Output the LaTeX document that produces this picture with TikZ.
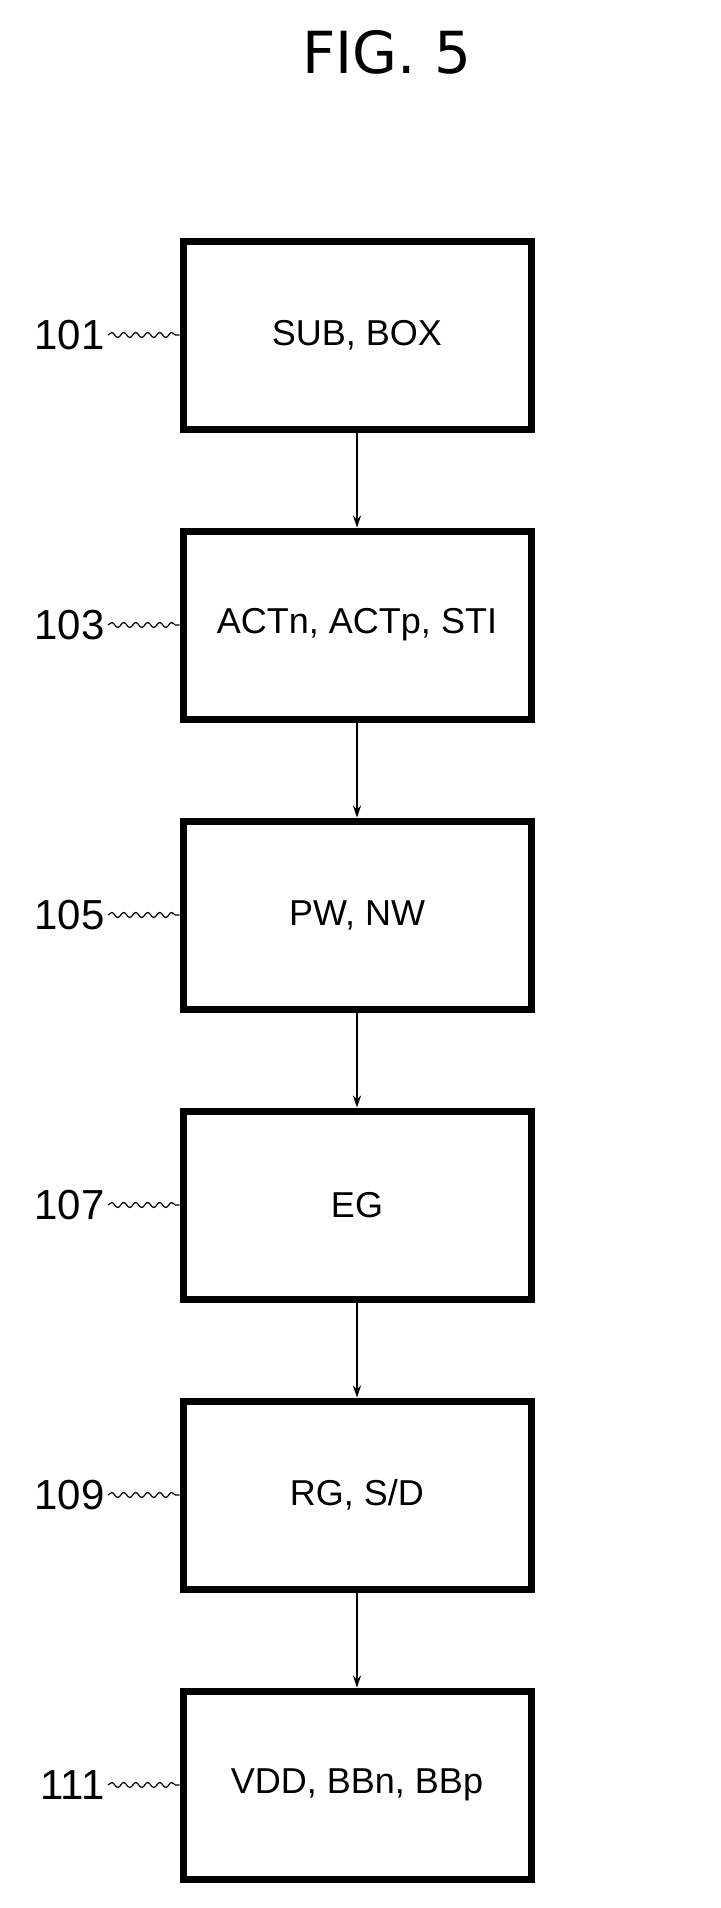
\documentclass[tikz,border=0pt]{standalone}
\usepackage{fontspec}
\setmainfont{Liberation Sans}
\newfontfamily\titlefont{DejaVu Sans}
\usetikzlibrary{decorations.pathmorphing,arrows.meta}
\begin{document}
\begin{tikzpicture}[x=1pt,y=-1pt,
  box/.style={draw,line width=7pt,minimum width=348pt,minimum height=188pt,inner sep=0pt,font=\fontsize{36}{36}\selectfont},
  lab/.style={font=\fontsize{42}{42}\selectfont,anchor=east},
  wave/.style={decorate,decoration={snake,amplitude=2.5pt,segment length=12pt},line width=1.2pt},
  arr/.style={-{Stealth[length=12pt,width=8pt]},line width=1.5pt}]
\useasboundingbox (0,0) rectangle (720,1908);
\node[font=\titlefont\fontsize{58}{58}\selectfont] (title) at (387,52) {FIG. 5};
\foreach \i/\t/\n in {0/{SUB, BOX}/101,1/{ACTn, ACTp, STI}/103,2/{PW, NW}/105,3/EG/107,4/{RG, S/D}/109,5/{VDD, BBn, BBp}/111}{
  \node[box] (b\i) at (357,{335+290*\i}) {\t};
  \node[lab] (l\i) at (108,{335+290*\i}) {\n};
  \draw[wave] (l\i.east) -- (b\i.west);
}
\foreach \i [evaluate=\i as \j using int(\i+1)] in {0,...,4}{
  \draw[arr] (b\i.south) -- (b\j.north);
}
\end{tikzpicture}
\end{document}
